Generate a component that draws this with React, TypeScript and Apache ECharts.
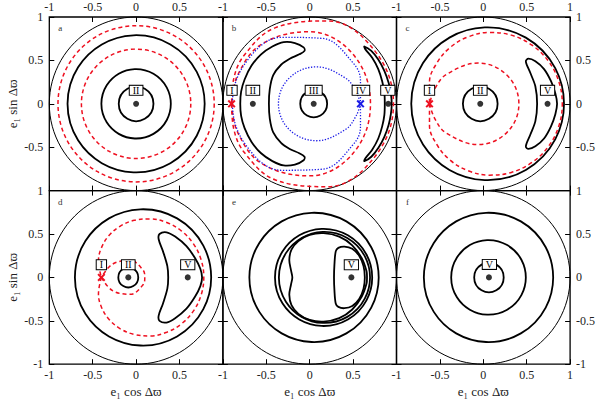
import React, { useEffect, useRef } from 'react';
import * as echarts from 'echarts';

// ---------- axis ticks / texts ----------
const TICK_VALUES = [-1, -0.5, 0, 0.5, 1];
const TICK_LABELS = ['-1', '-0.5', '0', '0.5', '1'];
const PANEL_LETTERS = ['a', 'b', 'c', 'd', 'e', 'f'];
const X_NAME = 'e\u2081 cos \u0394\u03D6';
const Y_NAME = 'e\u2081 sin \u0394\u03D6';

// ---------- circles [cx, cy, r] ----------
const outerCircle = [[0, 0, 1]];
const thickCirclesA = [[0, 0, 0.79], [0, 0, 0.40], [0, 0, 0.20]];
const redCirclesA = [[0, 0, 0.90], [0, 0, 0.63]];
const thickCirclesB = [[0.046, 0, 0.155]];
const thickCirclesC = [[0.05, 0, 0.88], [-0.035, 0, 0.20]];
const thickCirclesD = [[0.08, 0, 0.785], [-0.09, 0, 0.115]];
const thickCirclesE = [[0.05, 0, 0.745], [0.16, 0, 0.56], [0.17, 0, 0.525]];
const thickCirclesF = [[0.06, 0, 0.745], [0.06, 0, 0.43], [0.065, 0, 0.17]];

// ---------- closed curves ----------
const crescentB1 = [
  [-0.07, 0.65], [-0.17, 0.70], [-0.30, 0.71], [-0.43, 0.66], [-0.56, 0.57], [-0.67, 0.44],
  [-0.75, 0.28], [-0.79, 0.14], [-0.80, 0], [-0.79, -0.14], [-0.75, -0.28], [-0.67, -0.44],
  [-0.56, -0.57], [-0.43, -0.66], [-0.30, -0.71], [-0.17, -0.70], [-0.07, -0.65], [-0.06, -0.61],
  [-0.12, -0.57], [-0.23, -0.52], [-0.33, -0.45], [-0.42, -0.33], [-0.46, -0.17], [-0.47, 0],
  [-0.46, 0.17], [-0.42, 0.33], [-0.33, 0.45], [-0.23, 0.52], [-0.12, 0.57], [-0.06, 0.61],
];
const crescentB2 = [
  [0.63, 0.66], [0.71, 0.61], [0.79, 0.51], [0.86, 0.38], [0.91, 0.24], [0.935, 0.12], [0.945, 0],
  [0.935, -0.12], [0.91, -0.24], [0.86, -0.38], [0.79, -0.51], [0.71, -0.61], [0.63, -0.66],
  [0.64, -0.63], [0.72, -0.53], [0.79, -0.40], [0.835, -0.26], [0.86, -0.13], [0.865, 0],
  [0.86, 0.13], [0.835, 0.26], [0.79, 0.40], [0.72, 0.53], [0.64, 0.63],
];
// separatrices: each split in an outer and an inner loop, both start and end at the saddle
const redOuterB = [
  [-0.9, 0], [-0.875, -0.29], [-0.75, -0.565], [-0.40, -0.875], [0.215, -0.955], [0.75, -0.61],
  [0.965, 0], [0.75, 0.61], [0.215, 0.955], [-0.40, 0.875], [-0.75, 0.565], [-0.875, 0.29], [-0.9, 0],
];
const redInnerB = [
  [-0.9, 0], [-0.83, -0.33], [-0.55, -0.69], [0.0, -0.83], [0.50, -0.57], [0.70, 0],
  [0.50, 0.57], [0.0, 0.83], [-0.55, 0.69], [-0.83, 0.33], [-0.9, 0],
];
const blueOuterB = [
  [0.585, 0], [0.585, 0.265], [0.502, 0.468], [0.15, 0.753], [-0.328, 0.766], [-0.733, 0.4795],
  [-0.89, 0], [-0.733, -0.4795], [-0.328, -0.766], [0.15, -0.753], [0.502, -0.468], [0.585, -0.265], [0.585, 0],
];
const blueInnerB = [
  [0.585, 0], [0.534, -0.14], [0.415, -0.294], [0.078, -0.4255], [-0.2345, -0.298], [-0.36, 0],
  [-0.2345, 0.298], [0.078, 0.4255], [0.415, 0.294], [0.534, 0.14], [0.585, 0],
];
const crescentC = [
  [0.52, 0.52], [0.60, 0.49], [0.70, 0.40], [0.78, 0.26], [0.83, 0.12], [0.85, 0], [0.83, -0.12],
  [0.78, -0.26], [0.70, -0.40], [0.60, -0.49], [0.52, -0.52], [0.49, -0.49], [0.54, -0.36],
  [0.60, -0.20], [0.62, 0], [0.60, 0.20], [0.54, 0.36], [0.49, 0.49],
];
const redOuterC = [
  [-0.62, 0], [-0.62, -0.25], [-0.538, -0.465], [-0.385, -0.647], [-0.175, -0.771], [0.07, -0.822],
  [0.323, -0.791], [0.556, -0.679], [0.746, -0.497], [0.868, -0.262], [0.91, 0], [0.868, 0.262],
  [0.746, 0.497], [0.556, 0.679], [0.323, 0.791], [0.07, 0.822], [-0.175, 0.771], [-0.385, 0.647],
  [-0.538, 0.465], [-0.62, 0.25], [-0.62, 0],
];
const redInnerC = [
  [-0.62, 0], [-0.556, -0.177], [-0.425, -0.338], [-0.06, -0.47], [0.276, -0.326], [0.41, 0],
  [0.276, 0.326], [-0.06, 0.47], [-0.425, 0.338], [-0.556, 0.177], [-0.62, 0],
];
const crescentD = [
  [0.27, 0.50], [0.35, 0.52], [0.45, 0.47], [0.58, 0.36], [0.68, 0.22], [0.74, 0.10], [0.76, 0],
  [0.74, -0.10], [0.68, -0.22], [0.58, -0.36], [0.45, -0.47], [0.35, -0.52], [0.27, -0.50],
  [0.26, -0.44], [0.31, -0.30], [0.36, -0.13], [0.37, 0], [0.36, 0.13], [0.31, 0.30], [0.26, 0.44],
];
const redOuterD = [
  [-0.4, 0], [-0.4337, -0.191], [-0.4, -0.34], [-0.3155, -0.479], [-0.186, -0.589], [-0.02, -0.658],
  [0.166, -0.674], [0.353, -0.632], [0.524, -0.534], [0.661, -0.386], [0.749, -0.203], [0.78, 0],
  [0.749, 0.203], [0.661, 0.386], [0.524, 0.534], [0.353, 0.632], [0.166, 0.674], [-0.02, 0.658],
  [-0.186, 0.589], [-0.3155, 0.479], [-0.4, 0.34], [-0.4337, 0.191], [-0.4, 0],
];
const redInnerD = [
  [-0.4, 0], [-0.2714, -0.153], [-0.0644, -0.194], [0.0797, -0.0846], [0.10, 0],
  [0.0797, 0.0846], [-0.0644, 0.194], [-0.2714, 0.153], [-0.4, 0],
];
const beanE = [
  [0.16, 0.51], [0.34, 0.47], [0.49, 0.37], [0.60, 0.22], [0.655, 0.07], [0.66, 0], [0.655, -0.07],
  [0.60, -0.22], [0.49, -0.37], [0.34, -0.47], [0.16, -0.51], [0.0, -0.49], [-0.13, -0.42],
  [-0.21, -0.32], [-0.235, -0.20], [-0.215, -0.08], [-0.20, 0], [-0.215, 0.08], [-0.235, 0.20],
  [-0.21, 0.32], [-0.13, 0.42], [0.0, 0.49],
];
const crescentE = [
  [0.30, 0.30], [0.33, 0.34], [0.40, 0.355], [0.49, 0.33], [0.57, 0.25], [0.62, 0.13], [0.635, 0],
  [0.62, -0.13], [0.57, -0.25], [0.49, -0.33], [0.40, -0.355], [0.33, -0.34], [0.30, -0.30],
  [0.285, -0.15], [0.28, 0], [0.285, 0.15],
];

// ---------- equilibrium points and labels ----------
const dotsA = [[0, 0]];
const dotsB = [[-0.655, 0], [0.046, 0], [0.905, 0]];
const dotsC = [[-0.035, 0], [0.74, 0]];
const dotsD = [[-0.09, 0], [0.595, 0]];
const dotsE = [[0.48, 0]];
const dotsF = [[0.065, 0]];
const redXB = [[-0.9, 0]];
const blueXB = [[0.585, 0]];
const redXC = [[-0.62, 0]];
const redXD = [[-0.40, 0]];
const labelTextA = ['II'];
const labelPosA = [[0, 0.155]];
const labelTextB = ['I', 'II', 'III', 'IV', 'V'];
const labelPosB = [[-0.895, 0.155], [-0.655, 0.155], [0.046, 0.155], [0.59, 0.155], [0.9, 0.155]];
const labelTextC = ['I', 'II', 'V'];
const labelPosC = [[-0.62, 0.155], [-0.035, 0.155], [0.74, 0.155]];
const labelTextD = ['I', 'II', 'V'];
const labelPosD = [[-0.40, 0.146], [-0.09, 0.146], [0.595, 0.146]];
const labelTextE = ['V'];
const labelPosE = [[0.48, 0.145]];
const labelTextF = ['V'];
const labelPosF = [[0.07, 0.15]];

const PANELS = [
  { thick: thickCirclesA, redC: redCirclesA, curves: [], red: [], blue: [], dots: dotsA, rx: [], bx: [], lt: labelTextA, lp: labelPosA },
  { thick: thickCirclesB, redC: [], curves: [crescentB1, crescentB2], red: [redOuterB, redInnerB], blue: [blueOuterB, blueInnerB], dots: dotsB, rx: redXB, bx: blueXB, lt: labelTextB, lp: labelPosB },
  { thick: thickCirclesC, redC: [], curves: [crescentC], red: [redOuterC, redInnerC], blue: [], dots: dotsC, rx: redXC, bx: [], lt: labelTextC, lp: labelPosC },
  { thick: thickCirclesD, redC: [], curves: [crescentD], red: [redOuterD, redInnerD], blue: [], dots: dotsD, rx: redXD, bx: [], lt: labelTextD, lp: labelPosD },
  { thick: thickCirclesE, redC: [], curves: [beanE, crescentE], red: [], blue: [], dots: dotsE, rx: [], bx: [], lt: labelTextE, lp: labelPosE },
  { thick: thickCirclesF, redC: [], curves: [], red: [], blue: [], dots: dotsF, rx: [], bx: [], lt: labelTextF, lp: labelPosF },
];

const RED = '#ee1020';
const BLUE = '#1a1ae6';
const GRID_LEFT = 49.3;
const GRID_TOP = 17;
const CELL = 173.6;
const RED_DASH = [4, 3];

function circleRender(stroke: string, lineWidth: number, lineDash?: number[]) {
  return (params: any, api: any) => {
    const c = api.coord([api.value(0), api.value(1)]);
    const r = api.size([api.value(2), 0])[0];
    return {
      type: 'circle',
      shape: { cx: c[0], cy: c[1], r },
      style: { fill: 'none', stroke, lineWidth, lineDash: lineDash || null },
    };
  };
}

function curveRender(points: number[][], stroke: string, lineWidth: number) {
  return (params: any, api: any) => {
    if (params.dataIndex !== 0) return null;
    const pts = points.map((p) => {
      const c = api.coord([p[0], p[1]]);
      return [c[0], c[1]];
    });
    return {
      type: 'polygon',
      shape: { points: pts, smooth: 0.33 },
      style: { fill: 'none', stroke, lineWidth },
    };
  };
}

function crossRender(stroke: string) {
  return (params: any, api: any) => {
    const c = api.coord([api.value(0), api.value(1)]);
    const s = 3.3;
    return {
      type: 'group',
      children: [
        { type: 'line', shape: { x1: c[0] - s, y1: c[1] - s, x2: c[0] + s, y2: c[1] + s }, style: { stroke, lineWidth: 2 } },
        { type: 'line', shape: { x1: c[0] - s, y1: c[1] + s, x2: c[0] + s, y2: c[1] - s }, style: { stroke, lineWidth: 2 } },
      ],
    };
  };
}

function labelRender(texts: string[]) {
  return (params: any, api: any) => {
    const c = api.coord([api.value(0), api.value(1)]);
    return {
      type: 'text',
      x: c[0],
      y: c[1],
      style: {
        text: texts[params.dataIndex],
        fill: '#000',
        font: '10px "Liberation Serif", serif',
        align: 'center',
        verticalAlign: 'middle',
        backgroundColor: '#fff',
        borderColor: '#000',
        borderWidth: 1,
        lineHeight: 9,
        padding: [0, 3, 0, 3],
      },
    };
  };
}

function tickFormatter(v: number) {
  const i = TICK_VALUES.findIndex((t) => Math.abs(t - v) < 1e-9);
  return i >= 0 ? TICK_LABELS[i] : '';
}

function buildOption() {
  const grid: any[] = [];
  const xAxis: any[] = [];
  const yAxis: any[] = [];
  const series: any[] = [];
  const graphic: any[] = [];

  PANELS.forEach((p, g) => {
    const row = Math.floor(g / 3);
    const col = g % 3;
    const left = GRID_LEFT + col * CELL;
    const top = GRID_TOP + row * CELL;
    grid.push({ left, top, width: CELL, height: CELL, show: true, borderColor: '#000', borderWidth: 1.3, backgroundColor: 'transparent' });
    const tick = { show: true, inside: true, length: 5, lineStyle: { color: '#000', width: 1 } };
    const lab = { color: '#222', fontFamily: '"Liberation Serif", serif', fontSize: 12, formatter: tickFormatter };
    const base = {
      type: 'value', gridIndex: g, min: -1, max: 1, interval: 0.5,
      axisLine: { show: false, onZero: false }, axisTick: tick, splitLine: { show: false },
    };
    xAxis.push({ ...base, position: row === 0 ? 'top' : 'bottom', axisLabel: { ...lab, margin: row === 0 ? 4 : 5, showMaxLabel: col === 2, showMinLabel: true } });
    xAxis.push({ ...base, position: row === 0 ? 'bottom' : 'top', axisLabel: { show: false } });
    yAxis.push({ ...base, position: col === 2 ? 'right' : 'left', axisLabel: { ...lab, show: col !== 1, margin: 6, showMinLabel: row === 1, showMaxLabel: true } });
    yAxis.push({ ...base, position: col === 2 ? 'left' : 'right', axisLabel: { show: false } });
    const xi = 2 * g;
    const yi = 2 * g;
    const common = { type: 'custom', coordinateSystem: 'cartesian2d', xAxisIndex: xi, yAxisIndex: yi, silent: true, animation: false };
    const lineCommon = {
      type: 'line', xAxisIndex: xi, yAxisIndex: yi, silent: true, animation: false,
      symbol: 'none', smooth: 0.38, clip: false,
    };

    series.push({ ...common, z: 2, data: outerCircle, renderItem: circleRender('#000', 1) });
    series.push({ ...common, z: 3, data: p.thick, renderItem: circleRender('#000', 1.8) });
    if (p.redC.length) series.push({ ...common, z: 4, data: p.redC, renderItem: circleRender(RED, 1.5, RED_DASH) });
    p.curves.forEach((c) => series.push({ ...common, z: 3, data: c, renderItem: curveRender(c, '#000', 1.8) }));
    p.red.forEach((c) => series.push({ ...lineCommon, z: 4, data: c, lineStyle: { color: RED, width: 1.5, type: RED_DASH } }));
    p.blue.forEach((c) => series.push({ ...lineCommon, z: 4, data: c, lineStyle: { color: BLUE, width: 1.3, type: [1.3, 1.6] } }));
    series.push({
      type: 'scatter', xAxisIndex: xi, yAxisIndex: yi, data: p.dots, symbol: 'circle', symbolSize: 6,
      itemStyle: { color: '#000' }, silent: true, z: 5,
    });
    if (p.rx.length) series.push({ ...common, z: 6, data: p.rx, renderItem: crossRender(RED) });
    if (p.bx.length) series.push({ ...common, z: 6, data: p.bx, renderItem: crossRender(BLUE) });
    series.push({ ...common, z: 7, data: p.lp, renderItem: labelRender(p.lt) });

    graphic.push({
      type: 'text', x: left + 11, y: top + 11,
      style: { text: PANEL_LETTERS[g], font: '9px "Liberation Serif", serif', fill: '#333', align: 'center', verticalAlign: 'middle' },
      z: 10,
    });
    if (row === 1) {
      graphic.push({
        type: 'text', x: left + CELL / 2, y: 391,
        style: { text: X_NAME, font: '13px "Liberation Serif", "DejaVu Serif", serif', fill: '#222', align: 'center', verticalAlign: 'middle' },
      });
    }
    if (col === 0) {
      graphic.push({
        type: 'text', x: 12, y: top + CELL / 2, rotation: Math.PI / 2,
        style: { text: Y_NAME, font: '13px "Liberation Serif", "DejaVu Serif", serif', fill: '#222', align: 'center', verticalAlign: 'middle' },
      });
    }
  });

  return { animation: false, backgroundColor: '#fff', grid, xAxis, yAxis, series, graphic };
}

export default function App() {
  const ref = useRef<HTMLDivElement>(null);
  useEffect(() => {
    if (!ref.current) return;
    const chart = echarts.init(ref.current, undefined, { renderer: 'svg' });
    chart.setOption(buildOption() as any);
    return () => chart.dispose();
  }, []);
  return <div ref={ref} style={{ position: 'fixed', left: 0, top: 0, width: 600, height: 400 }} />;
}
